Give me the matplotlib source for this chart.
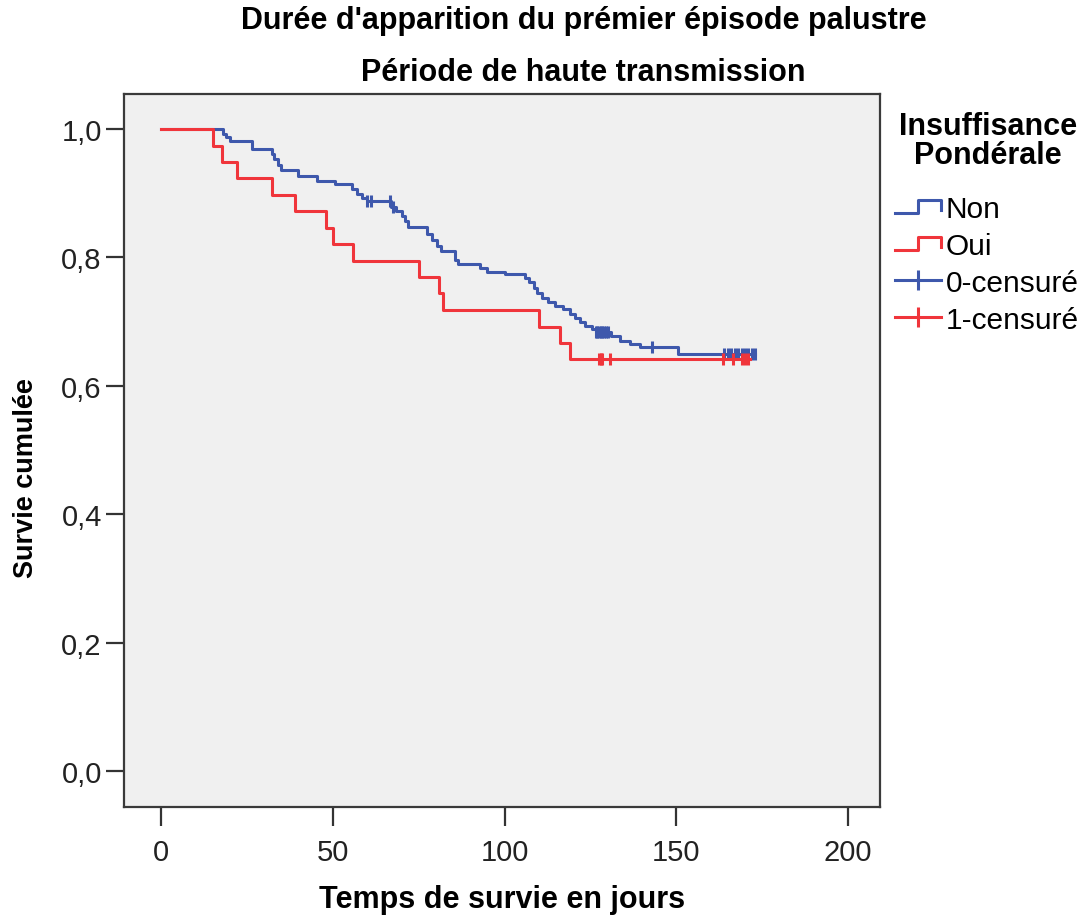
import matplotlib
matplotlib.use("Agg")
import matplotlib.pyplot as plt
import numpy as np
from matplotlib.lines import Line2D
from matplotlib.legend_handler import HandlerBase

plt.rcParams["font.family"] = ["Liberation Sans", "DejaVu Sans"]

# Courbes de Kaplan-Meier (temps en jours, survie cumulée)
non_t = [0, 18, 19, 20, 26.4, 32.2, 33, 34, 35, 40, 45.3, 50.7, 55.5, 57, 58.5, 60,
         67, 68.5, 70, 71, 72, 77.3, 79, 80.2, 81.5, 85.6, 86.5, 92.9, 94.8, 100,
         106, 107, 108.5, 109.5, 111, 112.5, 114.7, 117, 119, 120.5, 122, 123.5,
         125.5, 126.5, 131, 133.6, 136.5, 139.5, 150.5]
non_s = [1.0, 0.992, 0.987, 0.982, 0.969, 0.961, 0.953, 0.944, 0.936, 0.927, 0.919,
         0.914, 0.906, 0.899, 0.893, 0.888, 0.879, 0.872, 0.865, 0.856, 0.847, 0.836,
         0.827, 0.818, 0.810, 0.796, 0.790, 0.784, 0.777, 0.774, 0.768, 0.761, 0.753,
         0.745, 0.737, 0.731, 0.725, 0.720, 0.712, 0.705, 0.700, 0.693, 0.688, 0.684,
         0.678, 0.670, 0.665, 0.660, 0.650]
non_fin = 173
non_censure = [60, 61, 66.5, 67.5, 126.5, 127, 127.5, 128, 128.5, 129, 129.5, 130,
               143, 164, 165, 166, 167, 168, 169, 170, 171, 172, 173]

oui_t = [0, 15, 17.6, 22.2, 32.2, 39, 48, 50, 56, 75, 81, 82, 110, 116, 119]
oui_s = [1.0, 0.974, 0.949, 0.923, 0.897, 0.872, 0.846, 0.821, 0.795, 0.769, 0.744,
         0.718, 0.692, 0.667, 0.641]
oui_fin = 171.5
oui_censure = [127.5, 128, 128.5, 130.7, 163.6, 166.5, 169, 170, 171]

x_ticks = [0, 50, 100, 150, 200]
y_ticks = [0.0, 0.2, 0.4, 0.6, 0.8, 1.0]
y_labels = ["0,0", "0,2", "0,4", "0,6", "0,8", "1,0"]

bleu = "#3e58ac"
rouge = "#f0353b"


class HandlerStep(HandlerBase):
    # petit symbole en escalier comme dans SPSS
    def create_artists(self, legend, orig_handle, xdescent, ydescent, width,
                       height, fontsize, trans):
        x = np.array([0, 0.5, 0.5, 1.0, 1.0]) * width - xdescent
        y = np.array([0.2, 0.2, 0.8, 0.8, 0.35]) * height - ydescent
        ligne = Line2D(x, y, color=orig_handle.get_color(),
                       lw=orig_handle.get_linewidth())
        ligne.set_transform(trans)
        return [ligne]


def courbe(ax, t, s, fin, censure, couleur):
    t = np.array(t)
    s = np.array(s)
    ax.step(np.append(t, fin), np.append(s, s[-1]), where="post",
            color=couleur, lw=2.2)
    c = np.array(censure)
    yc = s[np.searchsorted(t, c, side="right") - 1]
    ax.plot(c, yc, ls="none", marker="|", markersize=9, mew=2.2, color=couleur)


fig = plt.figure(figsize=(10.83, 9.2), dpi=100)
ax = fig.add_axes([124 / 1083, 1 - 808 / 920, 756 / 1083, 713 / 920])
ax.set_facecolor("#f0f0f0")

courbe(ax, non_t, non_s, non_fin, non_censure, bleu)
courbe(ax, oui_t, oui_s, oui_fin, oui_censure, rouge)

ax.set_xlim(-10.8, 209.3)
ax.set_ylim(-0.056, 1.0545)
ax.set_xticks(x_ticks)
ax.set_yticks(y_ticks)
ax.set_yticklabels(y_labels)
ax.tick_params(axis="both", labelsize=21, width=1.6, color="#333333",
               labelcolor="#222222")
ax.tick_params(axis="x", length=14, pad=8)
ax.tick_params(axis="y", length=13, pad=3)
for sp in ax.spines.values():
    sp.set_color("#3a3a3a")
    sp.set_linewidth(1.6)

ax.set_xlabel("Temps de survie en jours", fontsize=22, fontweight="bold")
ax.xaxis.set_label_coords(0.5, -0.108)
ax.set_ylabel("Survie cumulée", fontsize=19.5, fontweight="bold")
ax.yaxis.set_label_coords(-0.112, 0.463)

fig.text(0.539, 1 - 21 / 920, "Durée d'apparition du prémier épisode palustre",
         ha="center", va="center", fontsize=22, fontweight="bold")
fig.text(0.539, 1 - 73 / 920, "Période de haute transmission",
         ha="center", va="center", fontsize=22, fontweight="bold")

# titre de la légende
fig.text(988 / 1083, 1 - 127 / 920, "Insuffisance", ha="center", va="center",
         fontsize=22, fontweight="bold")
fig.text(988 / 1083, 1 - 156 / 920, "Pondérale", ha="center", va="center",
         fontsize=22, fontweight="bold")

poignees = [
    Line2D([], [], color=bleu, lw=2.2),
    Line2D([], [], color=rouge, lw=2.2),
    Line2D([], [], color=bleu, lw=2.2, marker="|", markersize=15, mew=2.2),
    Line2D([], [], color=rouge, lw=2.2, marker="|", markersize=15, mew=2.2),
]
noms = ["Non", "Oui", "0-censuré", "1-censuré"]
fig.legend(poignees, noms, loc="upper left",
           bbox_to_anchor=(895 / 1083, 1 - 196 / 920),
           frameon=False, fontsize=21.5, numpoints=1,
           handlelength=1.55, handletextpad=0.15, labelspacing=0.3,
           borderaxespad=0, borderpad=0,
           handler_map={poignees[0]: HandlerStep(), poignees[1]: HandlerStep()})

fig.savefig("out.png", dpi=100)
